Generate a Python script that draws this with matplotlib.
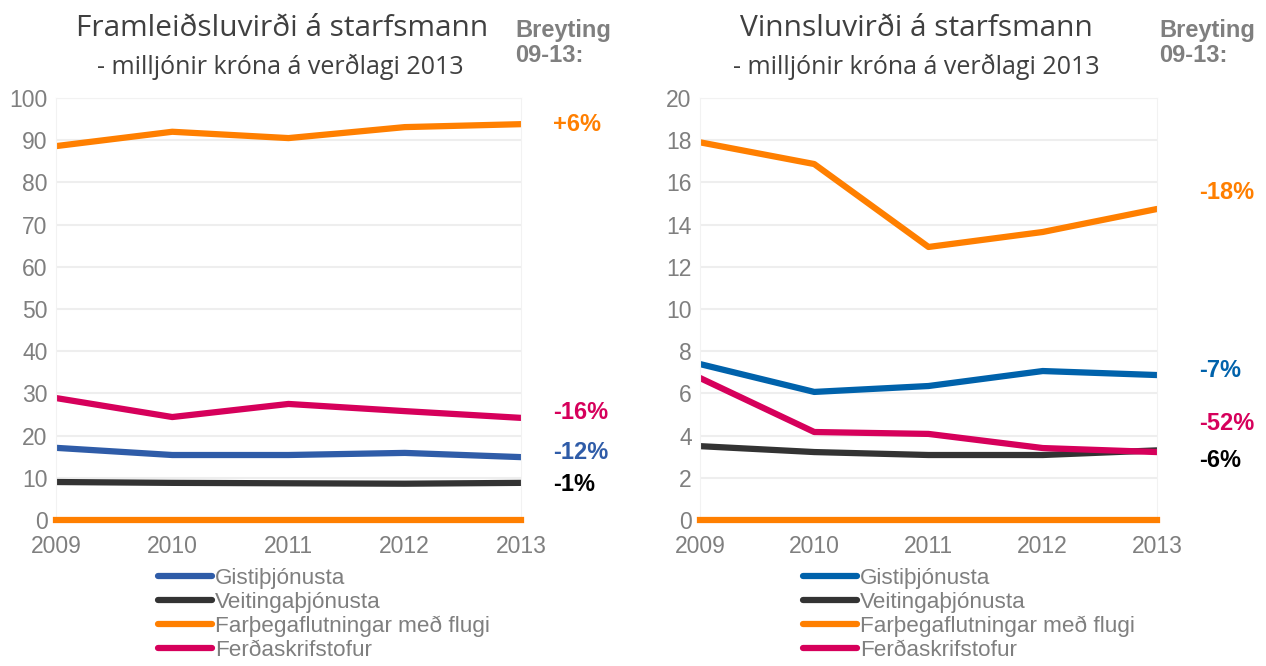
import matplotlib.pyplot as plt
from matplotlib.transforms import offset_copy

# Gögn
ar = [2009, 2010, 2011, 2012, 2013]
flokkar = ["Gistiþjónusta", "Veitingaþjónusta", "Farþegaflutningar með flugi", "Ferðaskrifstofur"]

framl_gisti = [17.1, 15.4, 15.4, 15.9, 14.9]
framl_veit = [9.0, 8.8, 8.7, 8.6, 8.8]
framl_flug = [88.6, 92.0, 90.5, 93.1, 93.8]
framl_ferda = [28.9, 24.4, 27.5, 25.8, 24.2]
framl_breyting = ["-12%", "-1%", "+6%", "-16%"]

vinnsl_gisti = [7.39, 6.07, 6.35, 7.06, 6.87]
vinnsl_veit = [3.5, 3.22, 3.08, 3.08, 3.3]
vinnsl_flug = [17.9, 16.87, 12.94, 13.65, 14.74]
vinnsl_ferda = [6.73, 4.17, 4.08, 3.41, 3.22]
vinnsl_breyting = ["-7%", "-6%", "-18%", "-52%"]

grar = "#7f7f7f"
appelsinugulur = "#ff7f00"
bleikur = "#d6005b"
svartur = "#333333"

fig = plt.figure(figsize=(12.66, 6.66), dpi=100)
plt.rcParams["font.family"] = ["Liberation Sans", "DejaVu Sans"]


def teikna(ax, gogn, litir, ymax, ystep, breyting, merki_y, bil, x_leg):
    for y, c, lab in zip(gogn, litir, flokkar):
        ax.plot(ar, y, color=c, lw=4.5, label=lab, solid_capstyle="round")
    ax.set_xlim(2009, 2013)
    ax.set_ylim(0, ymax)
    ax.set_yticks(range(0, ymax + 1, ystep))
    ax.set_xticks(ar)
    ax.grid(axis="y", color="#eeeeee", lw=1.5)
    ax.set_axisbelow(True)
    for s in ["left", "right", "top"]:
        ax.spines[s].set_color("#f2f2f2")
    ax.spines["bottom"].set_color(appelsinugulur)
    ax.spines["bottom"].set_linewidth(4.5)
    ax.tick_params(length=0, labelsize=16.5, labelcolor=grar, pad=6)
    ax.tick_params(axis="x", pad=11)
    # breytingar 09-13
    trans = ax.get_yaxis_transform()
    for txt, c, yy in zip(breyting, litir, merki_y):
        ax.text(1, yy, txt, transform=offset_copy(trans, fig=fig, x=bil, units="dots"),
                color=c if c != svartur else "black",
                fontsize=17, fontweight="bold", ha="left", va="center")
    leg = ax.legend(loc="upper left", bbox_to_anchor=(x_leg, -0.093), frameon=False,
                    fontsize=16.2, handlelength=2.4, handletextpad=0.15, labelspacing=0.12,
                    borderaxespad=0)
    for t in leg.get_texts():
        t.set_color(grar)


ax1 = fig.add_axes([56 / 1266, 146 / 666, 465 / 1266, 422 / 666])
teikna(ax1, [framl_gisti, framl_veit, framl_flug, framl_ferda],
       ["#2f5ca8", svartur, appelsinugulur, bleikur], 100, 10, framl_breyting,
       [16.1, 8.5, 93.8, 25.4], 32, 0.2)

ax2 = fig.add_axes([700 / 1266, 146 / 666, 457 / 1266, 422 / 666])
teikna(ax2, [vinnsl_gisti, vinnsl_veit, vinnsl_flug, vinnsl_ferda],
       ["#0062ab", svartur, appelsinugulur, bleikur], 20, 2, vinnsl_breyting,
       [7.1, 2.8, 15.5, 4.55], 42, 0.205)

tfont = ["Open Sans", "DejaVu Sans"]
fig.text(282 / 1266, 1 - 28 / 666, "Framleiðsluvirði á starfsmann", ha="center", va="center",
         fontsize=21.5, color="#404040", family=tfont)
fig.text(280 / 1266, 1 - 67 / 666, "- milljónir króna á verðlagi 2013", ha="center", va="center",
         fontsize=18, color="#404040", family=tfont)
fig.text(916 / 1266, 1 - 28 / 666, "Vinnsluvirði á starfsmann", ha="center", va="center",
         fontsize=21.5, color="#404040", family=tfont)
fig.text(916 / 1266, 1 - 67 / 666, "- milljónir króna á verðlagi 2013", ha="center", va="center",
         fontsize=18, color="#404040", family=tfont)
fig.text(515 / 1266, 1 - 43 / 666, "Breyting\n09-13:", ha="left", va="center",
         fontsize=17, fontweight="bold", color=grar, linespacing=1.1)
fig.text(1159 / 1266, 1 - 43 / 666, "Breyting\n09-13:", ha="left", va="center",
         fontsize=17, fontweight="bold", color=grar, linespacing=1.1)

fig.savefig("out.png", dpi=100)
